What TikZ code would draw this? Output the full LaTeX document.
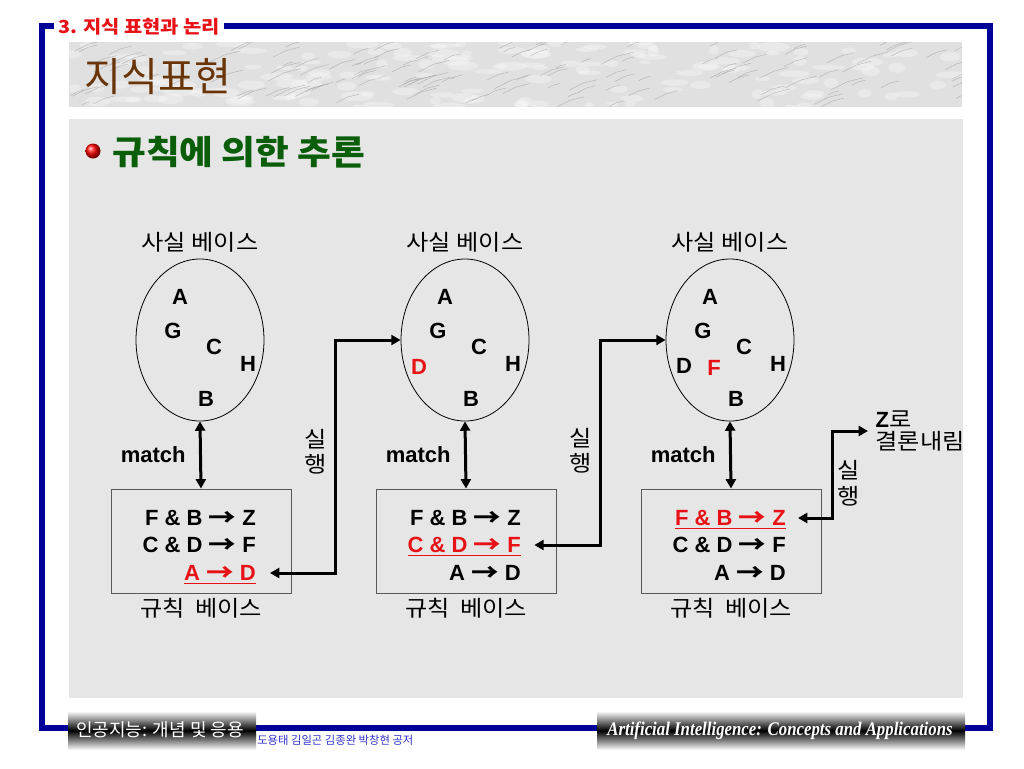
\documentclass[tikz,border=0pt]{standalone}
\usepackage{graphicx}
\usepackage{fontspec}
\setmainfont{Liberation Sans}
\newfontfamily\kr{Noto Sans CJK KR}[FakeStretch=1.1]
\newfontfamily\krn{Noto Sans CJK KR}
\newfontfamily\tms{Liberation Serif}[FakeStretch=0.87]
\usetikzlibrary{shapes.geometric,arrows.meta}
\definecolor{frameblue}{RGB}{0,0,153}
\definecolor{hired}{RGB}{232,18,22}
\definecolor{titlegreen}{RGB}{10,94,10}
\definecolor{titlebrown}{RGB}{105,52,8}
\definecolor{panelgray}{RGB}{230,230,230}
\definecolor{authorblue}{RGB}{51,51,204}
\newcommand{\imp}{\raisebox{-0.6pt}{\scalebox{1.25}[1.1]{\krn\bfseries →}}}
\tikzset{
	factbase/.style={draw,ellipse,line width=0.6pt,minimum width=96pt,minimum height=121.5pt,inner sep=0pt},
	rulebase/.style={draw=black!65,line width=0.75pt,minimum width=135pt,minimum height=78pt,inner sep=0pt},
	fact/.style={font=\fontsize{16.5}{18}\selectfont\bfseries,inner sep=0pt},
	rule/.style={font=\fontsize{16.5}{18}\selectfont\bfseries,anchor=east,inner sep=0pt,text height=11.8pt,text depth=0pt},
	kor/.style={font=\kr\fontsize{16.5}{19}\selectfont,align=center},
	run/.style={line width=2.25pt,<->},
	vein/.style={draw=black!40,line width=0.4pt,opacity=0.55},
	footbar/.style={top color=white,bottom color=white,middle color=black},
}
\begin{document}
\begin{tikzpicture}[x=0.75pt,y=-0.75pt,>={Triangle[length=7pt,width=7.5pt]}]
	\useasboundingbox (0,0) rectangle (1024,768);
	\fill[white] (0,0) rectangle (1024,768);
	\draw[frameblue,line width=4.5pt] (42,25.5) rectangle (990,728);
	\fill[panelgray] (69,119) rectangle (963,698);
	% marble band
	\begin{scope}
		\clip (69,42) rectangle (962,107);
		\fill[black!12] (69,42) rectangle (962,107);
		\pgfmathsetseed{7}
		\foreach \n in {1,...,160}{
			\pgfmathsetmacro\vx{69+rnd*893}
			\pgfmathsetmacro\vy{42+rnd*65}
			\fill[white,opacity=0.3] (\vx,\vy) ellipse (5+rnd*12 and 2+rnd*3);
		}
		\foreach \n in {1,...,140}{
			\pgfmathsetmacro\vx{69+rnd*893}
			\pgfmathsetmacro\vy{42+rnd*65}
			\pgfmathsetmacro\vl{8+rnd*26}
			\draw[vein] (\vx,\vy) -- ++(\vl/2,-\vl/4) -- ++(\vl/2,-\vl/8);
		}
	\end{scope}
	\node[fill=white,inner xsep=3pt,inner ysep=1pt,text=hired,font=\kr\fontsize{13.5}{15}\selectfont\bfseries] (sect) at (139,27) {3. 지식 표현과 논리};
	\node[text=titlebrown,font=\krn\fontsize{30}{32}\selectfont] (title) at (158,77) {지식표현};
	\shade[ball color=red] (93,151) circle (7.5);
	\node[text=titlegreen,font=\kr\fontsize{25}{27}\selectfont\bfseries,anchor=west,inner sep=0pt] (head) at (112,152) {규칙에 의한 추론};
	% bases
	\foreach \i/\x in {1/200,2/465,3/730}{
		\node[factbase] (fb\i) at (\x,340) {};
		\node[kor] (fbl\i) at (\x,242) {사실 베이스};
		\node[rulebase] (rb\i) at (\x+1,541) {};
		\node[kor] (rbl\i) at (\x+1,608) {규칙\hspace{8pt}베이스};
		\draw[run] (fb\i.south) -- node[fact,left=10pt] (m\i) {match} (rb\i.north);
		\foreach \ltr/\dx/\dy in {A/-20/-43,G/-27/-9,C/14/7,H/48/24,B/6/59}{
			\node[fact] (f\i\ltr) at (\x+\dx,340+\dy) {\ltr};
		}
	}
	\node[fact,text=hired] (f2D) at (419,367) {D};
	\node[fact] (f3D) at (684,366) {D};
	\node[fact,text=hired] (f3F) at (714,368) {F};
	\foreach \i/\x/\h in {1/256/3,2/521/2,3/786/1}{
		\foreach \j/\y/\rl in {1/518/{F \& B \imp{} Z},2/545/{C \& D \imp{} F},3/573/{A \imp{} D}}{
			\ifnum\j=\h\relax
				\node[rule,text=hired] (r\i\j) at (\x,\y) {\underline{\rl}};
			\else
				\node[rule] (r\i\j) at (\x,\y) {\rl};
			\fi
		}
	}
	% firing
	\coordinate (k1) at (335,340);
	\coordinate (k2) at (600,340);
	\coordinate (k3) at (832,431);
	\node[kor,anchor=west,align=left,font=\kr\fontsize{16.5}{16.5}\selectfont] (zc) at (871,431) {{\rmfamily\bfseries Z}로\\결론내림};
	\draw[run,shorten <=10.5pt] (r13.east) -| node[kor,pos=0.76,left=2pt] (x1) {실\\행} (k1) -- (fb2.west);
	\draw[run,shorten <=10pt] (r22.east) -| node[kor,pos=0.73,left=2pt] (x2) {실\\행} (k2) -- (fb3.west);
	\draw[run,shorten <=9pt,shorten >=2.25pt] (r31.east) -| node[kor,pos=0.7,right,inner sep=3pt] (x3) {실\\행} (k3) -- (zc.west);
	% footer
	\shade[footbar] (68,711) rectangle (256,750);
	\shade[footbar] (597,711) rectangle (965,750);
	\node[text=white,font=\krn\fontsize{13.5}{14}\selectfont] (fl) at (160,730) {인공지능: 개념 및 응용};
	\node[text=authorblue,font=\krn\fontsize{8.5}{9}\selectfont,anchor=west,inner sep=0pt] (fa) at (257,740) {도용태 김일곤 김종완 박창현 공저};
	\node[text=white,font=\tms\fontsize{14.5}{15}\selectfont\bfseries\itshape] (fr) at (780,731) {Artificial Intelligence: Concepts and Applications};
\end{tikzpicture}
\end{document}
